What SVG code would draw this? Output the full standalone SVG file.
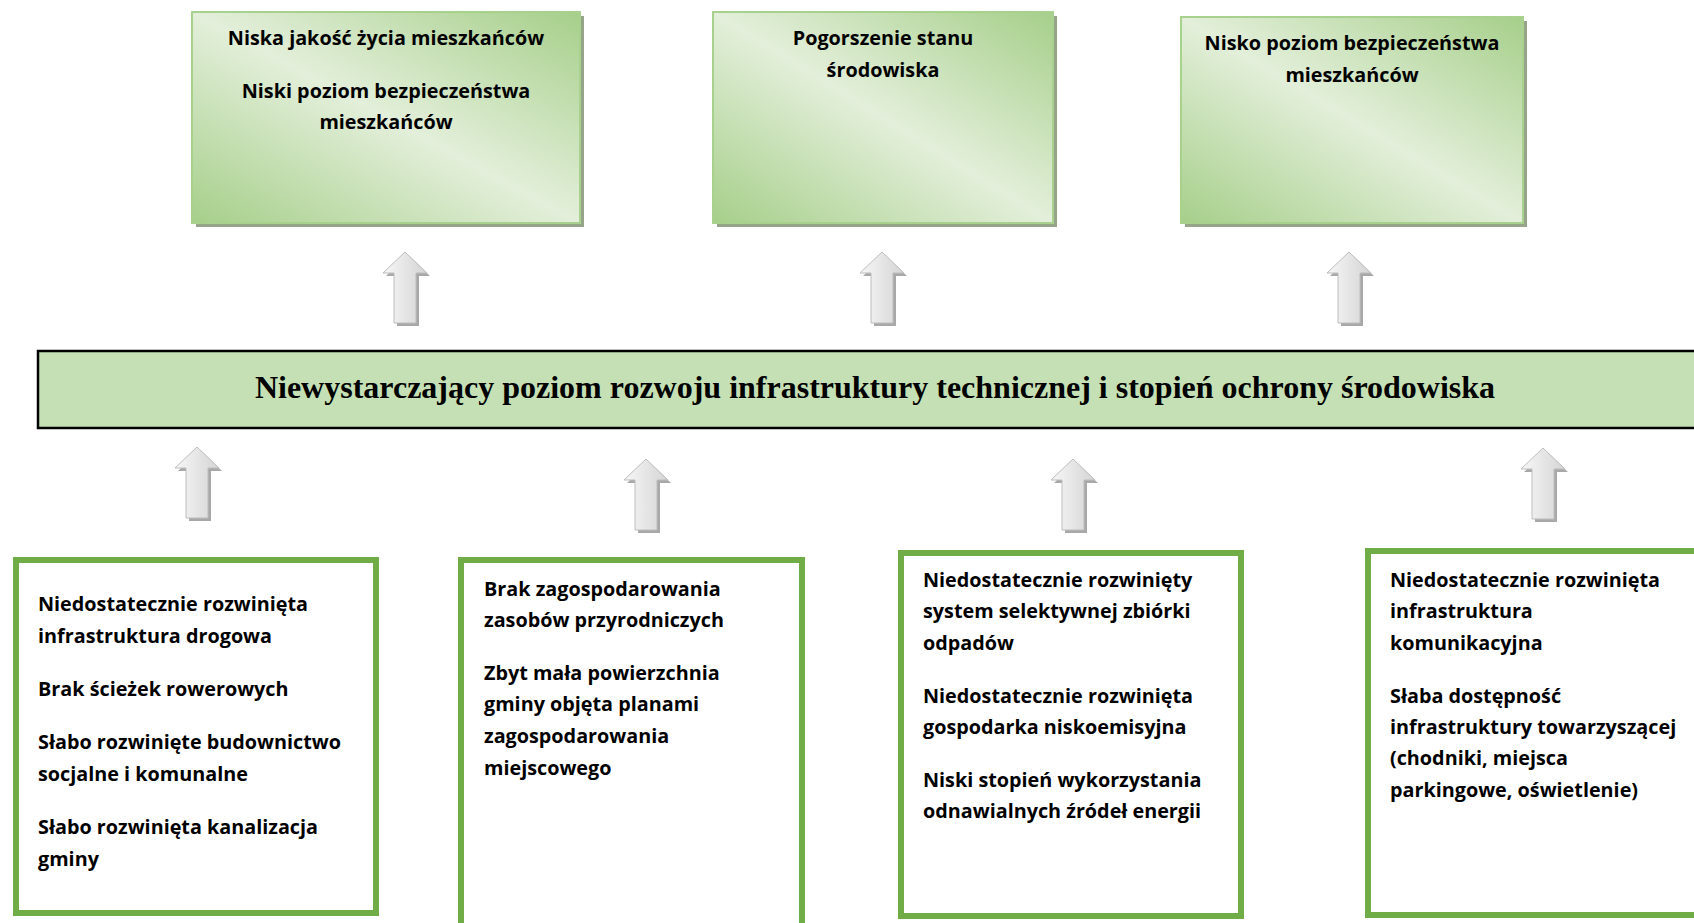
<svg xmlns="http://www.w3.org/2000/svg" width="1694" height="923" viewBox="0 0 1694 923">
<style>
.t{font-family:"Open Sans","Liberation Sans",sans-serif;font-weight:bold;font-size:19.8px;fill:#000}
.tc{text-anchor:middle}
.main{font-family:"Liberation Serif","Times New Roman",serif;font-weight:bold;font-size:32px;fill:#000;text-anchor:middle}
.topbox{fill:url(#gg);stroke:#A9D18E;stroke-width:2}
.shadow{fill:#96A58A}
.botbox{fill:#fff;stroke:#70AD47;stroke-width:6}
.arr{fill:url(#ag);stroke:#BDBDBD;stroke-width:1}
.arrs{fill:#A8A8A8}
</style>
<defs>
<linearGradient id="gg" x1="0" y1="1" x2="1" y2="0">
<stop offset="0" stop-color="#A6CF8A"/>
<stop offset="0.5" stop-color="#E3EFDA"/>
<stop offset="1" stop-color="#A6CF8A"/>
</linearGradient>
<linearGradient id="ag" x1="0" y1="0" x2="1" y2="0">
<stop offset="0" stop-color="#F7F7F7"/>
<stop offset="1" stop-color="#D4D4D4"/>
</linearGradient>
<path id="arrow" d="M0,0 L22,21 L11,21 L11,71 L-11,71 L-11,21 L-22,21 Z"/>
</defs>
<rect width="1694" height="923" fill="#fff"/>

<g id="top1">
<rect class="shadow" x="196" y="16" width="388" height="211"/>
<rect class="topbox" x="192" y="12" width="388" height="211"/>
<text class="t tc" x="386" y="45">Niska jakość życia mieszkańców</text>
<text class="t tc" x="386" y="98">Niski poziom bezpieczeństwa</text>
<text class="t tc" x="386" y="129">mieszkańców</text>
</g>
<g id="top2">
<rect class="shadow" x="717" y="16" width="340" height="211"/>
<rect class="topbox" x="713" y="12" width="340" height="211"/>
<text class="t tc" x="883" y="45">Pogorszenie stanu</text>
<text class="t tc" x="883" y="77">środowiska</text>
</g>
<g id="top3">
<rect class="shadow" x="1185" y="21" width="342" height="206"/>
<rect class="topbox" x="1181" y="17" width="342" height="206"/>
<text class="t tc" x="1352" y="50">Nisko poziom bezpieczeństwa</text>
<text class="t tc" x="1352" y="82">mieszkańców</text>
</g>

<g id="main">
<rect x="38" y="351" width="1680" height="77" fill="#C5E0B4" stroke="#000" stroke-width="2.5"/>
<text class="main" x="875" y="398">Niewystarczający poziom rozwoju infrastruktury technicznej i stopień ochrony środowiska</text>
</g>

<g id="boxA">
<rect class="botbox" x="16" y="560" width="360" height="353"/>
<text class="t" x="38" y="611">Niedostatecznie rozwinięta</text>
<text class="t" x="38" y="643">infrastruktura drogowa</text>
<text class="t" x="38" y="696">Brak ścieżek rowerowych</text>
<text class="t" x="38" y="749">Słabo rozwinięte budownictwo</text>
<text class="t" x="38" y="781">socjalne i komunalne</text>
<text class="t" x="38" y="834">Słabo rozwinięta kanalizacja</text>
<text class="t" x="38" y="866">gminy</text>
</g>
<g id="boxB">
<rect class="botbox" x="461" y="560" width="341" height="380"/>
<text class="t" x="484" y="596">Brak zagospodarowania</text>
<text class="t" x="484" y="627">zasobów przyrodniczych</text>
<text class="t" x="484" y="680">Zbyt mała powierzchnia</text>
<text class="t" x="484" y="711">gminy objęta planami</text>
<text class="t" x="484" y="743">zagospodarowania</text>
<text class="t" x="484" y="775">miejscowego</text>
</g>
<g id="boxC">
<rect class="botbox" x="901" y="553" width="340" height="363"/>
<text class="t" x="923" y="587">Niedostatecznie rozwinięty</text>
<text class="t" x="923" y="618">system selektywnej zbiórki</text>
<text class="t" x="923" y="650">odpadów</text>
<text class="t" x="923" y="703">Niedostatecznie rozwinięta</text>
<text class="t" x="923" y="734">gospodarka niskoemisyjna</text>
<text class="t" x="923" y="787">Niski stopień wykorzystania</text>
<text class="t" x="923" y="818">odnawialnych źródeł energii</text>
</g>
<g id="boxD">
<rect class="botbox" x="1368" y="551" width="400" height="364"/>
<text class="t" x="1390" y="587">Niedostatecznie rozwinięta</text>
<text class="t" x="1390" y="618">infrastruktura</text>
<text class="t" x="1390" y="650">komunikacyjna</text>
<text class="t" x="1390" y="703">Słaba dostępność</text>
<text class="t" x="1390" y="734">infrastruktury towarzyszącej</text>
<text class="t" x="1390" y="765">(chodniki, miejsca</text>
<text class="t" x="1390" y="797">parkingowe, oświetlenie)</text>
</g>

<g id="connectors">
<use href="#arrow" class="arrs" transform="translate(408,255)"/>
<use href="#arrow" class="arr" transform="translate(405,252)"/>
<use href="#arrow" class="arrs" transform="translate(885,255)"/>
<use href="#arrow" class="arr" transform="translate(882,252)"/>
<use href="#arrow" class="arrs" transform="translate(1352,255)"/>
<use href="#arrow" class="arr" transform="translate(1349,252)"/>
<use href="#arrow" class="arrs" transform="translate(200,450)"/>
<use href="#arrow" class="arr" transform="translate(197,447)"/>
<use href="#arrow" class="arrs" transform="translate(649,462)"/>
<use href="#arrow" class="arr" transform="translate(646,459)"/>
<use href="#arrow" class="arrs" transform="translate(1076,462)"/>
<use href="#arrow" class="arr" transform="translate(1073,459)"/>
<use href="#arrow" class="arrs" transform="translate(1546,451)"/>
<use href="#arrow" class="arr" transform="translate(1543,448)"/>
</g>
</svg>
